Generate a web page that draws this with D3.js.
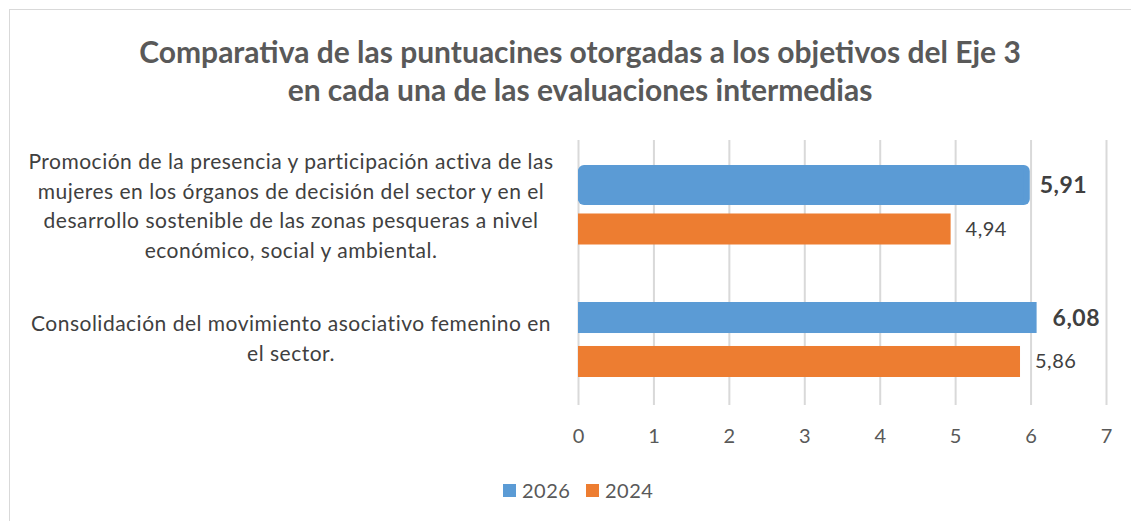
<!DOCTYPE html>
<html>
<head>
<meta charset="utf-8">
<script src="https://cdn.jsdelivr.net/npm/d3@7"></script>
<style>
  body { margin: 0; background: #fff; }
  text { font-family: Lato, "Open Sans", sans-serif; }
</style>
</head>
<body>
<div id="chart"></div>
<script>
let W = 1131;
let H = 521;

// Data
let categories = [
  ['Promoción de la presencia y participación activa de las',
   'mujeres en los órganos de decisión del sector y en el',
   'desarrollo sostenible de las zonas pesqueras a nivel',
   'económico, social y ambiental.'],
  ['Consolidación del movimiento asociativo femenino en',
   'el sector.']
];
let series = ['2026', '2024'];
let values2026 = [5.91, 6.08];
let values2024 = [4.94, 5.86];
let xTicks = [0, 1, 2, 3, 4, 5, 6, 7];
let colors = ['#5b9bd5', '#ed7d31'];
let titleLines = ['Comparativa de las puntuacines otorgadas a los objetivos del Eje 3',
                  'en cada una de las evaluaciones intermedias'];

let svg = d3.select('#chart').append('svg').attr('width', W).attr('height', H);

// Chart frame
svg.append('rect')
    .attr('x', 9.5).attr('y', 9.5)
    .attr('width', W - 9).attr('height', H - 6)
    .attr('fill', 'none').attr('stroke', '#d9d9d9');

// Title
svg.selectAll('text.title').data(titleLines).enter().append('text')
    .attr('class', 'title')
    .attr('x', 580)
    .attr('y', (d, i) => 63 + i * 38)
    .attr('text-anchor', 'middle')
    .attr('font-size', 30)
    .attr('font-weight', 'bold')
    .attr('fill', '#595959')
    .text(d => d);

// Scales
let x = d3.scaleLinear().domain([0, 7]).range([578, 1106]);
let y0 = d3.scaleBand().domain(d3.range(categories.length)).range([140, 405]);
let y1 = d3.scaleBand().domain(series).range([29.5, 104.5]).paddingInner(0.295);

// Gridlines
svg.append('g').selectAll('line').data(xTicks).enter().append('line')
    .attr('x1', d => x(d) + 0.5).attr('x2', d => x(d) + 0.5)
    .attr('y1', 140).attr('y2', 405)
    .attr('stroke', '#d9d9d9').attr('stroke-width', 2);

// Axis tick labels
let xAxis = svg.append('g').attr('transform', 'translate(0,405)')
    .call(d3.axisBottom(x).tickValues(xTicks).tickSize(0).tickPadding(24).tickFormat(d3.format('d')));
xAxis.select('.domain').remove();
xAxis.selectAll('text').attr('font-size', 20).attr('fill', '#595959')
    .attr('font-family', 'Lato, sans-serif');

// Bars
let rows = categories.map((c, i) => ({ i: i, vals: [values2026[i], values2024[i]] }));
let groups = svg.selectAll('g.grp').data(rows).enter().append('g')
    .attr('class', 'grp')
    .attr('transform', d => `translate(0,${y0(d.i)})`);

groups.selectAll('rect').data(d => d.vals.map((v, k) => ({ v: v, s: series[k], k: k, i: d.i })))
    .enter().append('rect')
    .attr('x', x(0))
    .attr('y', d => y1(d.s))
    .attr('width', d => x(d.v) - x(0))
    .attr('height', y1.bandwidth())
    .attr('fill', d => colors[d.k]);

// Selected-looking first bar (rounded highlight as in the picture)
groups.filter(d => d.i === 0).insert('rect', 'rect')
    .attr('x', x(0))
    .attr('y', y1('2026') - 4.5)
    .attr('width', x(values2026[0]) - x(0) + 6)
    .attr('height', y1.bandwidth() + 9)
    .attr('rx', 6)
    .attr('fill', colors[0]);

// Value labels
groups.selectAll('text.val').data(d => d.vals.map((v, k) => ({ v: v, s: series[k], k: k })))
    .enter().append('text')
    .attr('class', 'val')
    .attr('x', d => x(d.v) + (d.k === 0 ? 16 : 15))
    .attr('y', d => y1(d.s) + y1.bandwidth() / 2)
    .attr('dy', '0.35em')
    .attr('font-size', d => d.k === 0 ? 23 : 20)
    .attr('letter-spacing', 0.5)
    .attr('font-weight', d => d.k === 0 ? 'bold' : 'normal')
    .attr('fill', '#404040')
    .text(d => d3.format('.2f')(d.v).replace('.', ','));

// Category labels
groups.each(function (d) {
  let lines = categories[d.i];
  let lh = 29.5;
  let cy = (y1('2026') + y1('2024') + y1.bandwidth()) / 2 - 1;
  d3.select(this).selectAll('text.cat').data(lines).enter().append('text')
      .attr('class', 'cat')
      .attr('x', 291)
      .attr('y', (t, j) => cy + (j - (lines.length - 1) / 2) * lh)
      .attr('dy', '0.35em')
      .attr('text-anchor', 'middle')
      .attr('font-size', 21)
      .attr('letter-spacing', 0.5)
      .attr('fill', '#404040')
      .text(t => t);
});

// Legend
let legend = svg.append('g').selectAll('g').data(series).enter().append('g')
    .attr('transform', (d, i) => `translate(${503 + i * 83},491)`);
legend.append('rect').attr('x', 0).attr('y', -7).attr('width', 13).attr('height', 13)
    .attr('fill', (d, i) => colors[i]);
legend.append('text').attr('x', 19).attr('dy', '0.35em')
    .attr('font-size', 20).attr('letter-spacing', 0.5)
    .attr('fill', '#595959').text(d => d);
</script>
</body>
</html>
